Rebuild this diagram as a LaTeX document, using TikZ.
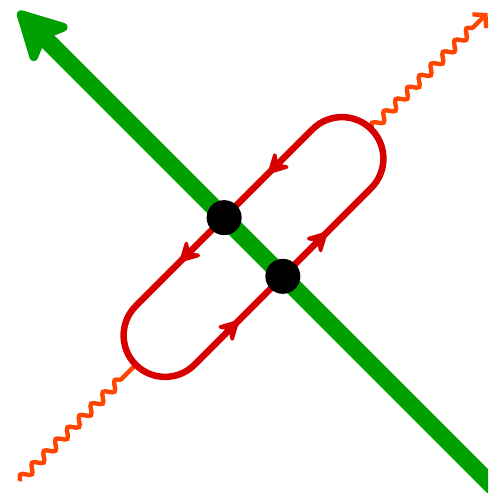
\documentclass[tikz,border=0pt]{standalone}
\usetikzlibrary{arrows.meta,decorations.markings,decorations.pathmorphing}
\definecolor{gluongreen}{RGB}{0,160,0}
\definecolor{quarkred}{RGB}{215,0,0}
\definecolor{photonorange}{RGB}{255,70,0}
\begin{document}
\begin{tikzpicture}[
    x=0.02cm,y=0.02cm,
    gluon/.style={draw=gluongreen, line width=10pt, -{Stealth[length=32pt,width=34pt,inset=7pt,round,line width=5pt]}},
    quark/.style={draw=quarkred, line width=3.7pt},
    midarrow/.style={quark, postaction={decorate}, decoration={markings, mark=at position 0.5 with {\arrow[quarkred]{Stealth[length=14pt,width=15pt,inset=5pt,round,line width=2pt]}}}},
    photon/.style={draw=photonorange, line width=2.5pt, decorate, decoration={snake, amplitude=2.3pt, segment length=9.5pt, post length=10pt}},
    vertex/.style={circle, fill=black, inner sep=0pt, minimum size=0.7cm}
]
    \useasboundingbox (0,0) rectangle (488,493);
    \clip (0,0) rectangle (488,493);
    \begin{scope}[shift={(253.5,246)}, rotate=45]
        \coordinate (a) at (0,41.5);
        \coordinate (b) at (0,-41.5);
        \coordinate (aup) at (125,41.5);
        \coordinate (adown) at (-125,41.5);
        \coordinate (bup) at (125,-41.5);
        \coordinate (bdown) at (-125,-41.5);
        \coordinate (capup) at (166.5,0);
        \coordinate (capdown) at (-166.5,0);
        \coordinate (phup) at (331,0);
        \coordinate (phdown) at (-331,0);
        \coordinate (gtip) at (0,333);
        \coordinate (gtail) at (0,-360);

        \draw[gluon] (gtail) -- (gtip);

        \draw[photon, -{Straight Barb[length=5pt,width=11pt]}] (capup) -- (phup);
        \draw[photon] (phdown) -- (capdown);

        \draw[midarrow] (b) -- (bup);
        \draw[quark] (bup) arc[start angle=-90, end angle=90, radius=41.5];
        \draw[midarrow] (aup) -- (a);
        \draw[midarrow] (a) -- (adown);
        \draw[quark] (adown) arc[start angle=90, end angle=270, radius=41.5];
        \draw[midarrow] (bdown) -- (b);

        \node[vertex] (va) at (a) {};
        \node[vertex] (vb) at (b) {};
    \end{scope}
\end{tikzpicture}
\end{document}
